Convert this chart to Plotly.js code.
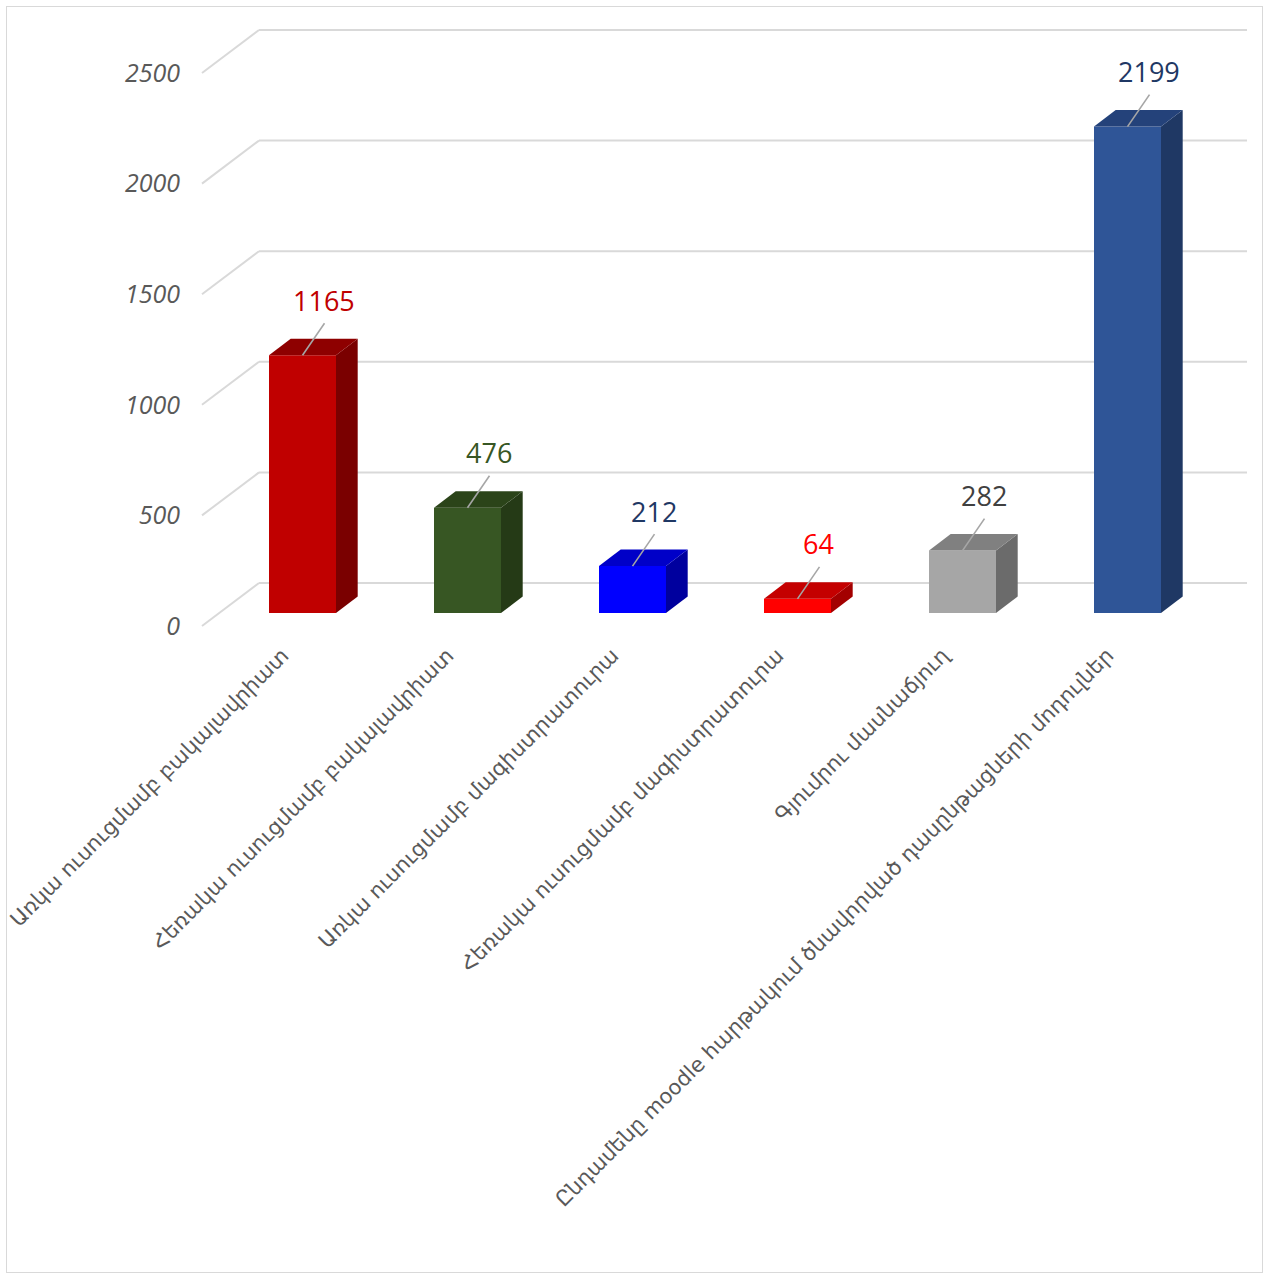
<!DOCTYPE html>
<html>
<head>
<meta charset="utf-8">
<script src="https://cdn.plot.ly/plotly-3.0.1.min.js"></script>
<style>
  html, body { margin: 0; padding: 0; background: #ffffff; }
  #chart { position: absolute; left: 0; top: 0; width: 1268px; height: 1278px; }
  #frame { position: absolute; left: 6px; top: 6px; width: 1255px; height: 1265px;
           border: 1px solid #D9D9D9; pointer-events: none; }
</style>
</head>
<body>
<div id="chart"></div>
<div id="frame"></div>
<script>
// ---------------- data ----------------
const categories = [
  "Առկա ուսուցմամբ բակալավրիատ",
  "Հեռակա ուսուցմամբ բակալավրիատ",
  "Առկա ուսուցմամբ մագիստրատուրա",
  "Հեռակա ուսուցմամբ մագիստրատուրա",
  "Գյումրու մասնաճյուղ",
  "Ընդամենը moodle հարթակում ծնավորված դասընթացների մոդուլներ"
];
const values = [1165, 476, 212, 64, 282, 2199];
const yTickValues = [0, 500, 1000, 1500, 2000, 2500];

// ---------------- styles ----------------
const frontColors = ["#C00000", "#375623", "#0000FF", "#FF0000", "#A6A6A6", "#2F5597"];
const topColors   = ["#8E0000", "#2B4419", "#0000C8", "#C40000", "#808080", "#24427A"];
const sideColors  = ["#7A0000", "#253A16", "#00009E", "#A30000", "#6B6B6B", "#1F3864"];
const labelColors = ["#C00000", "#375623", "#1F3864", "#FF0000", "#404040", "#1F3864"];

// ---------------- geometry (pixels) ----------------
const W = 1268, H = 1278;
const L = 188, R = 1250, T = 20, B = 638;
const PX_PER_CAT = 165;     // pixels between category centres
const X0_PX = 302.5;        // pixel of first category centre
const PX_PER_UNIT = 0.2212; // pixels per value unit
const Y0_PX = 613;          // pixel of value 0 on the bar front plane
const dxu = px => px / PX_PER_CAT;
const dyu = px => px / PX_PER_UNIT;

const xRange = [(L - X0_PX) / PX_PER_CAT, (R - X0_PX) / PX_PER_CAT];
const yRange = [(Y0_PX - B) / PX_PER_UNIT, (Y0_PX - T) / PX_PER_UNIT];

const barW = dxu(67);
const depthX = dxu(21.7), depthY = dyu(16.5);
const wallX = dxu(259 - X0_PX), wallEndX = dxu(1247 - X0_PX), wallY = dyu(30);
const diagX = dxu(202 - X0_PX), diagY = -dyu(13);

// ---------------- gridlines (back wall + floor diagonals) ----------------
const gridColor = "#D9D9D9";
const shapes = [];
yTickValues.forEach(v => {
  shapes.push({type: "line", xref: "x", yref: "y", layer: "below",
    x0: wallX, x1: wallEndX, y0: v + wallY, y1: v + wallY,
    line: {color: gridColor, width: 2}});
  shapes.push({type: "line", xref: "x", yref: "y", layer: "below",
    x0: diagX, x1: wallX, y0: v + diagY, y1: v + wallY,
    line: {color: gridColor, width: 2}});
});

// ---------------- traces ----------------
const idx = categories.map((_, i) => i);
const traces = [];

// side and top faces
values.forEach((v, i) => {
  const l = i - barW / 2, r = i + barW / 2;
  traces.push({type: "scatter", mode: "lines", fill: "toself",
    x: [r, r + depthX, r + depthX, r, r],
    y: [0, depthY, v + depthY, v, 0],
    fillcolor: sideColors[i], line: {width: 0, color: sideColors[i]},
    hoverinfo: "skip", showlegend: false});
  traces.push({type: "scatter", mode: "lines", fill: "toself",
    x: [l, l + depthX, r + depthX, r, l],
    y: [v, v + depthY, v + depthY, v, v],
    fillcolor: topColors[i], line: {width: 0, color: topColors[i]},
    hoverinfo: "skip", showlegend: false});
});

// front faces
traces.push({type: "bar", x: idx, y: values, width: barW,
  marker: {color: frontColors, line: {width: 0}},
  hoverinfo: "x+y", showlegend: false});

// leader lines
const leadX = dxu(22), leadY = dyu(32);
const lx = [], ly = [];
values.forEach((v, i) => { lx.push(i, i + leadX, null); ly.push(v, v + leadY, null); });
traces.push({type: "scatter", mode: "lines", x: lx, y: ly,
  line: {color: "#A6A6A6", width: 1.6}, hoverinfo: "skip", showlegend: false});

// value labels
const annotations = values.map((v, i) => ({
  x: i, y: v, xref: "x", yref: "y", text: String(v), showarrow: false,
  xshift: 21, yshift: 55, xanchor: "center", yanchor: "middle",
  font: {family: "Open Sans, Segoe UI, sans-serif", size: 27, color: labelColors[i]}
}));

const layout = {
  width: W, height: H, autosize: false,
  margin: {l: L, r: W - R, t: T, b: H - B, pad: 0},
  paper_bgcolor: "#ffffff", plot_bgcolor: "#ffffff",
  showlegend: false,
  xaxis: {range: xRange, tickvals: idx, ticktext: categories, tickangle: -45,
    showgrid: false, zeroline: false, showline: false, ticks: "", automargin: false,
    ticklabelshift: -20, ticklabelstandoff: 0,
    tickfont: {family: "DejaVu Sans, sans-serif", size: 21, color: "#595959"}},
  yaxis: {range: yRange, tickvals: yTickValues.map(v => v + diagY),
    ticktext: yTickValues.map(String), ticklabelstandoff: 7,
    showgrid: false, zeroline: false, showline: false, ticks: "", automargin: false,
    tickfont: {family: "Open Sans, sans-serif", size: 25, color: "#595959", style: "italic"}},
  shapes: shapes,
  annotations: annotations
};

Plotly.newPlot("chart", traces, layout, {displayModeBar: false, staticPlot: true});
</script>
</body>
</html>
